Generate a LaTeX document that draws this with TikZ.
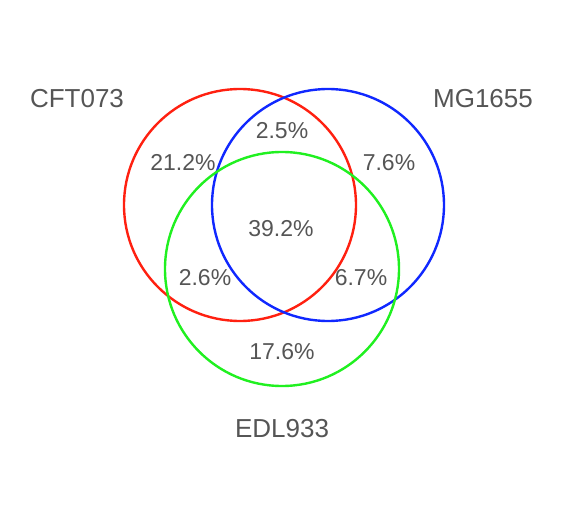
\documentclass[tikz,border=0pt]{standalone}
\usepackage{fontspec}
\setmainfont{Liberation Sans}
\definecolor{txt}{HTML}{555555}
\definecolor{vred}{HTML}{FF2010}
\definecolor{vblue}{HTML}{1028FF}
\definecolor{vgreen}{HTML}{20F020}
\begin{document}
\begin{tikzpicture}[x=1pt,y=-1pt,
  ring/.style={draw, line width=2.4pt},
  lab/.style={text=txt, font=\fontsize{26}{26}\selectfont, inner sep=0pt},
  pct/.style={text=txt, font=\fontsize{23}{23}\selectfont, inner sep=0pt}]
\useasboundingbox (0,0) rectangle (566,524);
\draw[ring, vred] (240,205) circle[radius=116];
\draw[ring, vblue] (328,205) circle[radius=116];
\draw[ring, vgreen] (282,269) circle[radius=117];
\node[lab] (cft) at (77,99) {CFT073};
\node[lab] (mg) at (483,99) {MG1655};
\node[lab] (edl) at (282,429) {EDL933};
\node[pct] (p1) at (282,131) {2.5\%};
\node[pct] (p2) at (183,163) {21.2\%};
\node[pct] (p3) at (389,163) {7.6\%};
\node[pct] (p4) at (281,229) {39.2\%};
\node[pct] (p5) at (205,278) {2.6\%};
\node[pct] (p6) at (361,278) {6.7\%};
\node[pct] (p7) at (282,352) {17.6\%};
\end{tikzpicture}
\end{document}
